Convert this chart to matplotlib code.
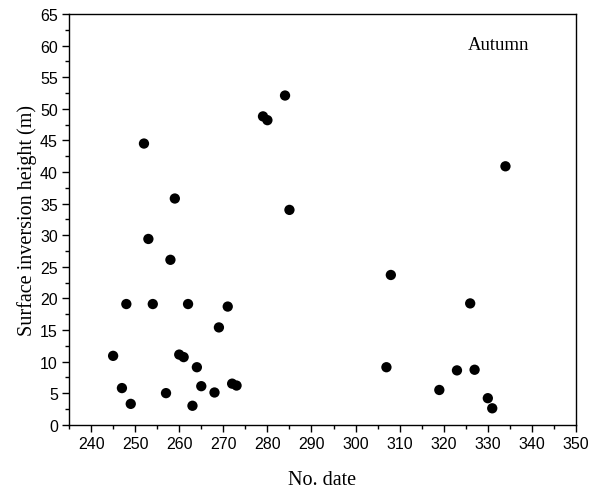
# surface inversion height vs day number, autumn

import numpy as np
import matplotlib
matplotlib.use('Agg')
from matplotlib import pyplot as plt
from matplotlib.ticker import MultipleLocator

day = [245, 247, 248, 249, 252, 253, 254, 257, 258, 259, 260, 261, 262, 263,
       264, 265, 268, 269, 271, 272, 273, 279, 280, 284, 285,
       307, 308, 319, 323, 326, 327, 330, 331, 334]
height = [10.9, 5.8, 19.1, 3.3, 44.5, 29.4, 19.1, 5.0, 26.1, 35.8, 11.1, 10.7, 19.1, 3.0,
          9.1, 6.1, 5.1, 15.4, 18.7, 6.5, 6.2, 48.8, 48.2, 52.1, 34.0,
          9.1, 23.7, 5.5, 8.6, 19.2, 8.7, 4.2, 2.6, 40.9]

fig = plt.figure(figsize=(5.91, 4.89), dpi=100)
ax = fig.add_axes([0.1168, 0.1294, 0.8578, 0.8399])

ax.scatter(day, height, s=55, c='black', edgecolors='none', zorder=3)

ax.set_xlim(235, 350)
ax.set_ylim(0, 65)
ax.xaxis.set_major_locator(MultipleLocator(10))
ax.xaxis.set_minor_locator(MultipleLocator(5))
ax.yaxis.set_major_locator(MultipleLocator(5))
ax.yaxis.set_minor_locator(MultipleLocator(2.5))
ax.tick_params(which='major', direction='out', length=5, width=1, labelsize=11.5, pad=3)
ax.tick_params(which='minor', direction='out', length=3, width=1)
for lab in ax.get_xticklabels() + ax.get_yticklabels():
    lab.set_family('Liberation Sans')
for sp in ax.spines.values():
    sp.set_linewidth(1)

ax.set_xlabel('No. date', family='Liberation Serif', fontsize=14.5, labelpad=14)
ax.set_ylabel('Surface inversion height (m)', family='Liberation Serif', fontsize=14.5, labelpad=2)
ax.text(332.5, 60.1, 'Autumn', family='Liberation Serif', fontsize=13.5, ha='center', va='center')

fig.savefig('out.png', dpi=100)
